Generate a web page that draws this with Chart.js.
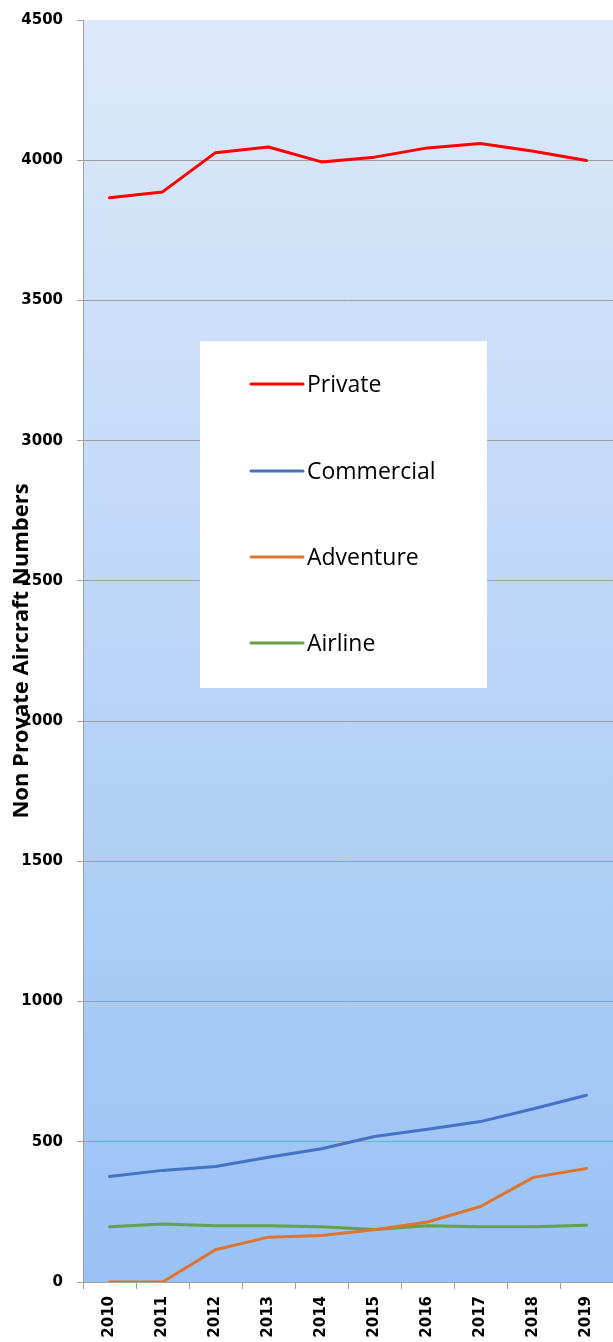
<!DOCTYPE html>
<html>
<head>
<meta charset="utf-8">
<script src="https://cdn.jsdelivr.net/npm/chart.js@4.4.1/dist/chart.umd.min.js"></script>
<style>
  html, body { margin: 0; padding: 0; background: #ffffff; }
  #wrap { width: 613px; height: 1342px; }
</style>
</head>
<body>
<div id="wrap"><canvas id="myChart" width="613" height="1342"></canvas></div>
<script>
// Data
var years = ['2010', '2011', '2012', '2013', '2014', '2015', '2016', '2017', '2018', '2019'];
var privateVals = [3866, 3887, 4027, 4047, 3994, 4011, 4044, 4060, 4032, 3999];
var commercialVals = [376, 398, 412, 445, 475, 519, 545, 572, 618, 666];
var adventureVals = [0, 0, 115, 160, 166, 186, 214, 269, 373, 405];
var airlineVals = [197, 207, 201, 201, 197, 187, 201, 197, 197, 202];
var seriesNames = ['Private', 'Commercial', 'Adventure', 'Airline'];
var seriesColors = ['#ff0000', '#4472c4', '#e0742e', '#66a144'];
var yTicks = [0, 500, 1000, 1500, 2000, 2500, 3000, 3500, 4000, 4500];
var axisTitle = 'Non Provate Aircraft Numbers';

// Blue gradient behind the plot area
var bgPlugin = {
  id: 'plotBg',
  beforeDraw: function(chart) {
    var a = chart.chartArea, ctx = chart.ctx;
    var g = ctx.createLinearGradient(0, a.top, 0, a.bottom);
    g.addColorStop(0, '#dde9fa');
    g.addColorStop(1, '#98c2f5');
    ctx.save();
    ctx.fillStyle = g;
    ctx.fillRect(a.left, a.top, a.right - a.left, a.bottom - a.top);
    ctx.restore();
  }
};

// Legend box inside the plot and the y axis title (drawn over the tick labels, like the original)
var extrasPlugin = {
  id: 'extras',
  afterDraw: function(chart) {
    var ctx = chart.ctx;
    ctx.save();
    ctx.fillStyle = '#ffffff';
    ctx.fillRect(200, 341, 287, 347);
    var rows = [384, 471, 557, 643];
    chart.data.datasets.forEach(function(ds, i) {
      ctx.strokeStyle = ds.borderColor;
      ctx.lineWidth = 3;
      ctx.lineCap = 'round';
      ctx.beginPath();
      ctx.moveTo(251, rows[i]);
      ctx.lineTo(303, rows[i]);
      ctx.stroke();
      ctx.fillStyle = '#000000';
      ctx.font = '23px "Open Sans"';
      ctx.textAlign = 'left';
      ctx.textBaseline = 'middle';
      ctx.fillText(ds.label, 307, rows[i] + 1);
    });

    ctx.translate(22, (chart.chartArea.top + chart.chartArea.bottom) / 2);
    ctx.rotate(-Math.PI / 2);
    ctx.fillStyle = '#000000';
    ctx.font = 'bold 22px "Open Sans"';
    ctx.textAlign = 'center';
    ctx.textBaseline = 'middle';
    ctx.fillText(axisTitle, 0, 0);
    ctx.restore();
  }
};

var allVals = [privateVals, commercialVals, adventureVals, airlineVals];
var datasets = [];
for (var i = 0; i < seriesNames.length; i++) {
  datasets.push({
    label: seriesNames[i],
    data: allVals[i],
    borderColor: seriesColors[i],
    backgroundColor: seriesColors[i],
    borderWidth: 3,
    pointRadius: 0,
    tension: 0,
    borderCapStyle: 'round',
    borderJoinStyle: 'round'
  });
}

var ctx = document.getElementById('myChart').getContext('2d');
var myChart = new Chart(ctx, {
  type: 'line',
  data: { labels: years, datasets: datasets },
  plugins: [bgPlugin, extrasPlugin],
  options: {
    responsive: false,
    animation: false,
    layout: { padding: { top: 20, right: 0, left: 0, bottom: 0 } },
    plugins: {
      legend: { display: false },
      tooltip: { enabled: false }
    },
    scales: {
      x: {
        offset: true,
        grid: {
          offset: true,
          drawOnChartArea: false,
          drawTicks: true,
          tickLength: 7,
          color: '#a0a0a0'
        },
        border: { color: '#a0a0a0', width: 1 },
        ticks: {
          minRotation: 90,
          maxRotation: 90,
          padding: 7,
          color: '#000000',
          font: { family: 'DejaVu Sans', weight: 'bold', size: 15 }
        },
        afterFit: function(scale) { scale.height = 60; }
      },
      y: {
        min: 0,
        max: 4500,
        afterBuildTicks: function(scale) {
          scale.ticks = yTicks.map(function(v) { return { value: v }; });
        },
        grid: {
          color: function(c) { return c.tick && c.tick.value === 4500 ? 'rgba(0,0,0,0)' : '#9e9e9e'; },
          tickColor: '#a0a0a0',
          tickLength: 6
        },
        border: { color: '#a0a0a0', width: 1 },
        ticks: {
          padding: 14,
          color: '#000000',
          font: { family: 'DejaVu Sans', weight: 'bold', size: 15, lineHeight: 1 },
          callback: function(v) { return String(v); }
        },
        afterFit: function(scale) {
          scale.width = 83;
          scale.paddingTop = 0;
        }
      }
    }
  }
});
</script>
</body>
</html>
